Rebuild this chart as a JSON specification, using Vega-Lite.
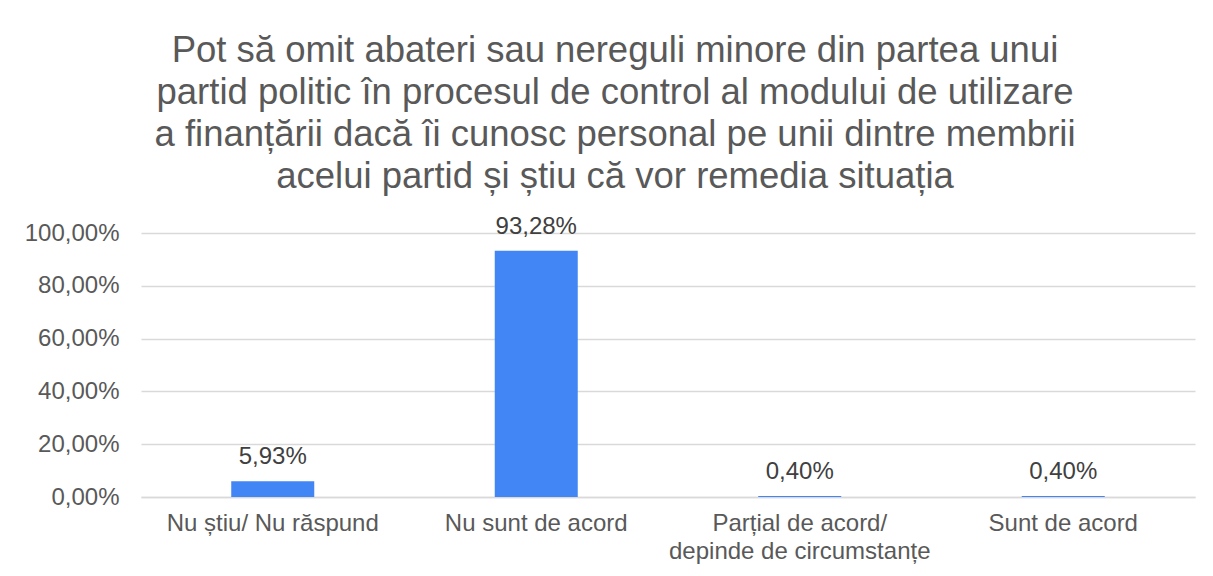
{
  "$schema": "https://vega.github.io/schema/vega-lite/v6.json",
  "autosize": "none",
  "width": 1054,
  "height": 264,
  "padding": {"left": 141, "top": 233, "right": 18, "bottom": 79},
  "background": "white",
  "config": {
    "font": "Liberation Sans",
    "view": {"stroke": null},
    "locale": {"number": {"decimal": ",", "thousands": ".", "grouping": [3], "currency": ["", " lei"]}}
  },
  "title": {
    "text": ["Pot să omit abateri sau nereguli minore din partea unui", "partid politic în procesul de control al modului de utilizare", "a finanțării dacă îi cunosc personal pe unii dintre membrii", "acelui partid și știu că vor remedia situația"],
    "fontSize": 36.5,
    "font": "Liberation Sans",
    "fontWeight": "normal",
    "color": "#595959",
    "lineHeight": 42,
    "anchor": "middle",
    "dx": -53,
    "offset": 19
  },
  "data": {
    "values": [
      {"cat": "Nu știu/ Nu răspund", "v": 0.0593},
      {"cat": "Nu sunt de acord", "v": 0.9328},
      {"cat": "Parțial de acord/|depinde de circumstanțe", "v": 0.004},
      {"cat": "Sunt de acord", "v": 0.004}
    ]
  },
  "encoding": {
    "x": {
      "field": "cat",
      "type": "nominal",
      "sort": null,
      "scale": {"paddingInner": 0, "paddingOuter": 0},
      "axis": {
        "title": null,
        "labelAngle": 0,
        "labelFontSize": 24,
        "labelColor": "#595959",
        "labelPadding": 14,
        "labelLineHeight": 28,
        "labelLimit": 0,
        "labelExpr": "split(datum.label, '|')",
        "ticks": false,
        "domain": true,
        "domainColor": "#D9D9D9",
        "domainWidth": 1.5,
        "labelBaseline": "top"
      }
    },
    "y": {
      "field": "v",
      "type": "quantitative",
      "scale": {"domain": [0, 1], "nice": false},
      "axis": {
        "title": null,
        "format": ".2%",
        "values": [0, 0.2, 0.4, 0.6, 0.8, 1],
        "labelFontSize": 24,
        "labelColor": "#595959",
        "labelPadding": 22,
        "labelLimit": 0,
        "ticks": false,
        "domain": false,
        "gridColor": "#D9D9D9",
        "gridWidth": 1.5
      }
    }
  },
  "layer": [
    {"mark": {"type": "bar", "color": "#4285F4", "width": {"band": 0.315}}},
    {
      "mark": {"type": "text", "baseline": "bottom", "dy": -12, "fontSize": 24, "color": "#404040", "font": "Liberation Sans"},
      "encoding": {"text": {"field": "v", "type": "quantitative", "format": ".2%"}}
    }
  ]
}
